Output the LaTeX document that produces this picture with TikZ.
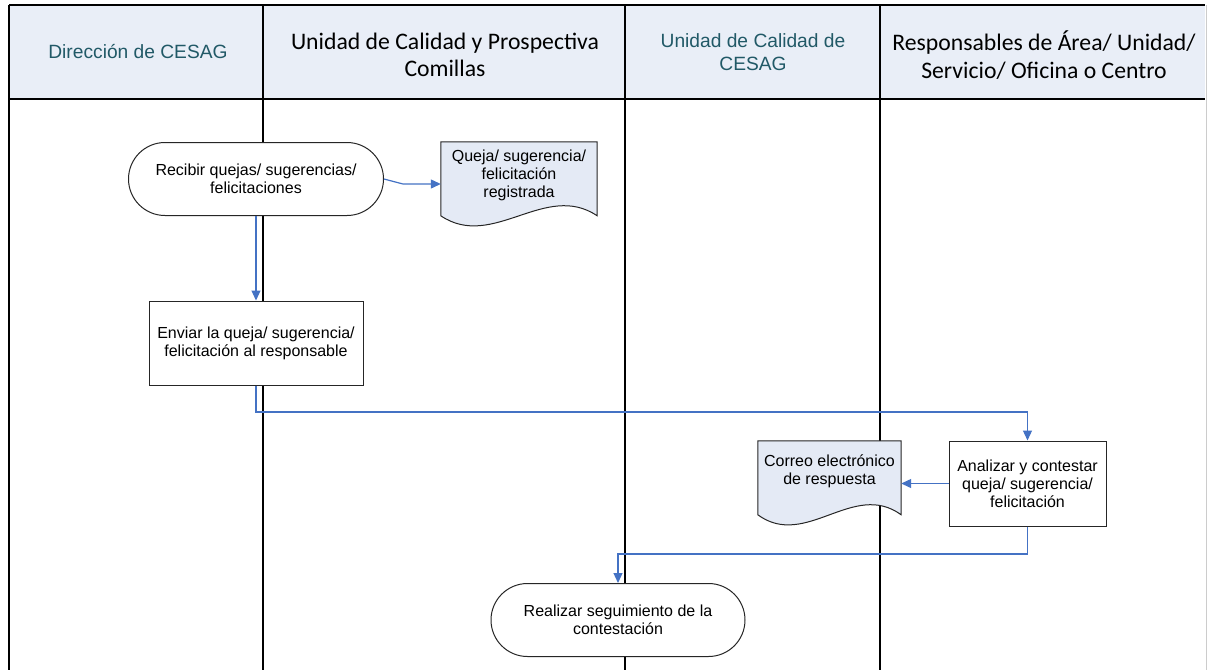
\documentclass[tikz,border=0pt]{standalone}
\usepackage{fontspec}
\setmainfont{Liberation Sans}
\newfontfamily\califont{Carlito}
\usetikzlibrary{arrows.meta,calc}
\pgfdeclarelayer{lanes}
\pgfdeclarelayer{bg}
\pgfsetlayers{lanes,bg,main}
\definecolor{hdrfill}{HTML}{E9EEF7}
\definecolor{docfill}{HTML}{E4EAF5}
\definecolor{tealtxt}{HTML}{215967}
\definecolor{connblue}{HTML}{4472C4}
\tikzset{
  x=1pt, y=-1pt,
  laneline/.style={line width=2pt, black},
  bodytext/.style={font=\fontsize{16}{18}\selectfont, align=center, inner sep=0pt},
  procbox/.style={bodytext, draw=black!85, line width=1pt, fill=white, rectangle},
  termbox/.style={bodytext, draw=black!85, line width=1pt, fill=white, rectangle, rounded corners=36.5pt},
  doctext/.style={bodytext, rectangle},
  docdraw/.style={draw=black!85, line width=1pt, fill=docfill},
  tealhead/.style={font=\fontsize{19.2}{22.5}\selectfont, text=tealtxt, align=center, inner sep=0pt},
  calhead/.style={font=\califont\fontsize{23.7}{27.5}\selectfont, align=center, inner sep=0pt},
  flow/.style={draw=connblue, line width=1.2pt, -{Triangle[length=10pt,width=9pt]}},
}
\begin{document}
\begin{tikzpicture}
\useasboundingbox (0,0) rectangle (1208,670);

% lanes and header
\begin{pgfonlayer}{lanes}
\fill[white] (0,0) rectangle (1208,670);
\fill[hdrfill] (9,5) rectangle (1205,99);
\draw[black!20, line width=1pt] (1206,5) -- (1206,670);
\draw[line width=1.5pt] (9,5) -- (1205,5);
\draw[line width=1.5pt] (9,99) -- (1205,99);
\draw[laneline] (9,5) -- (9,670);
\draw[laneline] (263,5) -- (263,670);
\draw[laneline] (625,5) -- (625,670);
\draw[laneline] (880,5) -- (880,670);
\end{pgfonlayer}

% header texts
\node[tealhead] (h1) at (138,52) {Dirección de CESAG};
\node[calhead] (h2) at (445,55) {Unidad de Calidad y Prospectiva\\Comillas};
\node[tealhead] (h3) at (753,52) {Unidad de Calidad de\\CESAG};
\node[calhead] (h4) at (1044,55) {Responsables de Área/ Unidad/\\Servicio/ Oficina o Centro};

% nodes
\node[termbox, minimum width=255, minimum height=73] (s1) at (256,179) {Recibir quejas/ sugerencias/\\felicitaciones};
\node[doctext, minimum width=156, minimum height=66] (d2) at (519,175) {Queja/ sugerencia/\\felicitación\\registrada};
\node[procbox, minimum width=214, minimum height=84] (r3) at (256,343) {Enviar la queja/ sugerencia/\\felicitación al responsable};
\node[procbox, minimum width=157, minimum height=85] (r5) at (1027.5,483.5) {Analizar y contestar\\queja/ sugerencia/\\felicitación};
\node[doctext, minimum width=143, minimum height=60] (d4) at (829.5,471) {Correo electrónico\\de respuesta};
\node[termbox, minimum width=254, minimum height=73] (s6) at (618,620) {Realizar seguimiento de la\\contestación};

% document outlines
\begin{pgfonlayer}{bg}
\draw[docdraw] (d2.north west) -- (d2.north east) -- ($(d2.north east)+(0,74)$)
  .. controls ($(d2.north east)+(-52,39)$) and ($(d2.north west)+(52,109)$) .. ($(d2.north west)+(0,74)$) -- cycle;
\draw[docdraw] (d4.north west) -- (d4.north east) -- ($(d4.north east)+(0,74)$)
  .. controls ($(d4.north east)+(-48,39)$) and ($(d4.north west)+(48,109)$) .. ($(d4.north west)+(0,74)$) -- cycle;
\end{pgfonlayer}

% connectors
\coordinate (k1) at (403,184);
\coordinate (k3) at (0,412);
\coordinate (k5) at (0,554);
\draw[flow] (s1.east) -- (k1) -- (k1 -| d2.west);
\draw[flow] (s1.south) -- (r3.north);
\draw[flow] (r3.south) -- (r3.south |- k3) -- (r5.north |- k3) -- (r5.north);
\draw[flow] (r5.west) -- (d4.east |- r5.west);
\draw[flow] (r5.south) -- (r5.south |- k5) -- (s6.north |- k5) -- (s6.north);
\end{tikzpicture}
\end{document}
